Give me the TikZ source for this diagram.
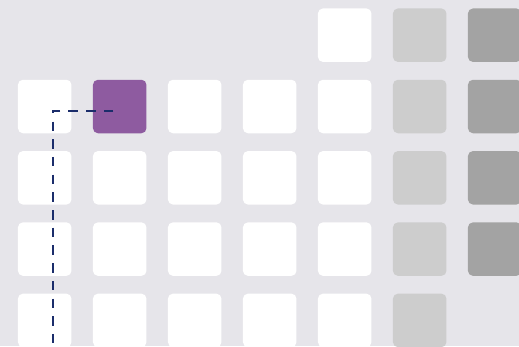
\documentclass[tikz,border=0pt]{standalone}
\usepackage{tikz}
\definecolor{bgc}{HTML}{E6E5EA}
\definecolor{lgray}{HTML}{CDCDCD}
\definecolor{dgray}{HTML}{A3A3A3}
\definecolor{purp}{HTML}{8E5BA0}
\definecolor{navy}{HTML}{1B2D6B}
\begin{document}
\begin{tikzpicture}[x=1pt,y=-1pt,
  tile/.style={draw=none,rounded corners=5pt,minimum width=53.5pt,minimum height=53.5pt,inner sep=0pt,outer sep=0pt},
  wtile/.style={tile,fill=white},
  ltile/.style={tile,fill=lgray},
  dtile/.style={tile,fill=dgray},
  ptile/.style={tile,fill=purp},
  route/.style={draw=navy,line width=2pt,dash pattern=on 9.5pt off 8.2pt}]
\fill[bgc] (0,0) rectangle (519,346);
\useasboundingbox (0,0) rectangle (519,346);
% row 0
\node[wtile] (t04) at (44.7+300,35.2) {};
\node[ltile] (t05) at (44.7+375,35.2) {};
\node[dtile] (t06) at (44.7+450,35.2) {};
% row 1
\node[wtile] (t10) at (44.7,106.5) {};
\node[ptile] (t11) at (44.7+75,106.5) {};
\node[wtile] (t12) at (44.7+150,106.5) {};
\node[wtile] (t13) at (44.7+225,106.5) {};
\node[wtile] (t14) at (44.7+300,106.5) {};
\node[ltile] (t15) at (44.7+375,106.5) {};
\node[dtile] (t16) at (44.7+450,106.5) {};
% row 2
\node[wtile] (t20) at (44.7,177.8) {};
\node[wtile] (t21) at (44.7+75,177.8) {};
\node[wtile] (t22) at (44.7+150,177.8) {};
\node[wtile] (t23) at (44.7+225,177.8) {};
\node[wtile] (t24) at (44.7+300,177.8) {};
\node[ltile] (t25) at (44.7+375,177.8) {};
\node[dtile] (t26) at (44.7+450,177.8) {};
% row 3
\node[wtile] (t30) at (44.7,249.1) {};
\node[wtile] (t31) at (44.7+75,249.1) {};
\node[wtile] (t32) at (44.7+150,249.1) {};
\node[wtile] (t33) at (44.7+225,249.1) {};
\node[wtile] (t34) at (44.7+300,249.1) {};
\node[ltile] (t35) at (44.7+375,249.1) {};
\node[dtile] (t36) at (44.7+450,249.1) {};
% row 4
\node[wtile] (t40) at (44.7,320.4) {};
\node[wtile] (t41) at (44.7+75,320.4) {};
\node[wtile] (t42) at (44.7+150,320.4) {};
\node[wtile] (t43) at (44.7+225,320.4) {};
\node[wtile] (t44) at (44.7+300,320.4) {};
\node[ltile] (t45) at (44.7+375,320.4) {};
% route
\coordinate (rs) at (113.3,110.7);
\coordinate (rc) at (53.3,110.7);
\coordinate (re) at (53.3,347);
\draw[route] (rs) -- (rc) -- (re);
\end{tikzpicture}
\end{document}
